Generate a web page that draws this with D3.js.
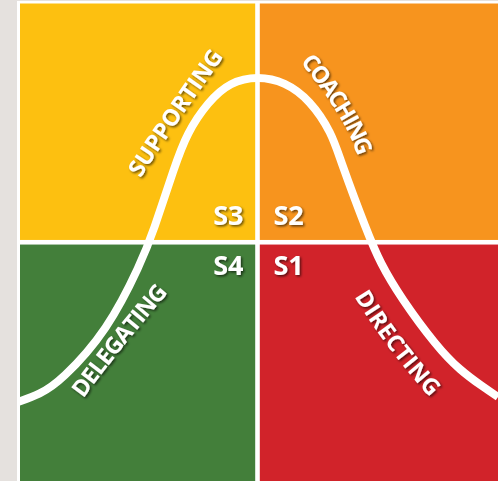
<!DOCTYPE html>
<html>
<head>
<meta charset="utf-8">
<script src="https://cdn.jsdelivr.net/npm/d3@7"></script>
<style>
  html, body { margin: 0; padding: 0; background: #e5e1de; }
  svg { display: block; }
  text { font-family: "Open Sans", "DejaVu Sans", sans-serif; font-weight: 700; fill: #fff; }
</style>
</head>
<body>
<div id="chart"></div>
<script>
(function() {
  var width = 498,
      height = 481;

  // quadrants: style code, label, colour (S1..S4)
  var styles = ['S1', 'S2', 'S3', 'S4'];
  var styleNames = ['DIRECTING', 'COACHING', 'SUPPORTING', 'DELEGATING'];
  var quadColors = ['#d1232a', '#f7941e', '#fdc010', '#437f3a'];

  // bell curve (0-100 both ways)
  var curveX = [0, 4.8, 9.1, 18.9, 25.8, 28.3, 32.8, 35.3, 39.7, 44.3, 50.1, 55.7, 60.9, 65.5, 67.2, 72.8, 75.5, 79.7, 87.3, 92.1, 96.9, 100];
  var curveY = [16.5, 18.2, 20.9, 31.6, 45.7, 52.1, 66.0, 72.8, 79.4, 83.6, 84.8, 83.6, 79.8, 72.8, 67.2, 52.1, 45.7, 38.5, 28.1, 23.2, 19.7, 17.6];

  var x = d3.scaleLinear().domain([0, 100]).range([17, 498]);
  var y = d3.scaleLinear().domain([0, 100]).range([481, 3.5]);

  var svg = d3.select("#chart")
    .append("svg")
    .attr("width", width)
    .attr("height", height);

  var defs = svg.append("defs");
  var shadow = defs.append("filter")
    .attr("id", "shadow")
    .attr("x", "-20%").attr("y", "-20%")
    .attr("width", "140%").attr("height", "140%");
  shadow.append("feDropShadow")
    .attr("dx", 1.5).attr("dy", 1.5)
    .attr("stdDeviation", 1.2)
    .attr("flood-color", "#000")
    .attr("flood-opacity", 0.6);

  defs.append("clipPath").attr("id", "plot-clip")
    .append("rect")
    .attr("x", x(0) + 3).attr("y", y(100))
    .attr("width", x(100) - x(0) - 3).attr("height", y(0) - y(100));

  // white frame
  svg.append("rect")
    .attr("x", x(0)).attr("y", 1)
    .attr("width", width - x(0)).attr("height", height - 1)
    .attr("fill", "#fff");

  var gap = 2.3;
  // quadrant geometry: S1 bottom-right, S2 top-right, S3 top-left, S4 bottom-left
  var quads = styles.map(function(s, i) {
    var right = (i < 2), top = (i === 1 || i === 2);
    return {
      code: s,
      color: quadColors[i],
      x0: right ? x(50) + gap : x(0) + 3,
      x1: right ? x(100) : x(50) - gap,
      y0: top ? y(100) : y(50) + gap,
      y1: top ? y(50) - gap : y(0),
      right: right,
      top: top
    };
  });

  svg.selectAll(".quad")
    .data(quads)
    .enter().append("rect")
    .attr("class", "quad")
    .attr("x", function(d) { return d.x0; })
    .attr("y", function(d) { return d.y0; })
    .attr("width", function(d) { return d.x1 - d.x0; })
    .attr("height", function(d) { return d.y1 - d.y0; })
    .attr("fill", function(d) { return d.color; });

  // the curve
  var points = curveX.map(function(v, i) { return [v, curveY[i]]; });
  var line = d3.line()
    .x(function(d) { return x(d[0]); })
    .y(function(d) { return y(d[1]); })
    .curve(d3.curveBasis);

  svg.append("path")
    .datum(points)
    .attr("clip-path", "url(#plot-clip)")
    .attr("d", line)
    .attr("fill", "none")
    .attr("stroke", "#fff")
    .attr("stroke-width", 8);

  // S codes near the centre
  svg.selectAll(".code")
    .data(quads)
    .enter().append("text")
    .attr("class", "code")
    .attr("filter", "url(#shadow)")
    .attr("x", function(d) { return d.right ? x(50) + 16 : x(50) - 14; })
    .attr("y", function(d) { return d.top ? y(50) - 17 : y(50) + 33; })
    .attr("text-anchor", function(d) { return d.right ? "start" : "end"; })
    .style("font-size", "27px")
    .text(function(d) { return d.code; });

  // arc paths for the style names (start, middle, end)
  var arcs = [
    [[360, 290], [395, 342], [438, 394]],
    [[305, 55], [345, 110], [366, 156]],
    [[132, 176], [172, 116], [219, 49]],
    [[75, 396], [118, 340], [164, 285]]
  ];

  arcs.forEach(function(a, i) {
    var p0 = a[0], pm = a[1], p2 = a[2];
    var c = [2 * pm[0] - (p0[0] + p2[0]) / 2, 2 * pm[1] - (p0[1] + p2[1]) / 2];
    var p = defs.append("path")
      .attr("id", "arc" + i)
      .attr("d", "M" + p0 + "Q" + c + " " + p2);
    var len = p.node().getTotalLength();

    svg.append("text")
      .attr("filter", "url(#shadow)")
      .attr("dy", "0.36em")
      .style("font-size", "23px")
      .append("textPath")
      .attr("href", "#arc" + i)
      .attr("startOffset", len * 0.02)
      .attr("textLength", len * 0.96)
      .attr("lengthAdjust", "spacing")
      .text(styleNames[i]);
  });
})();
</script>
</body>
</html>
